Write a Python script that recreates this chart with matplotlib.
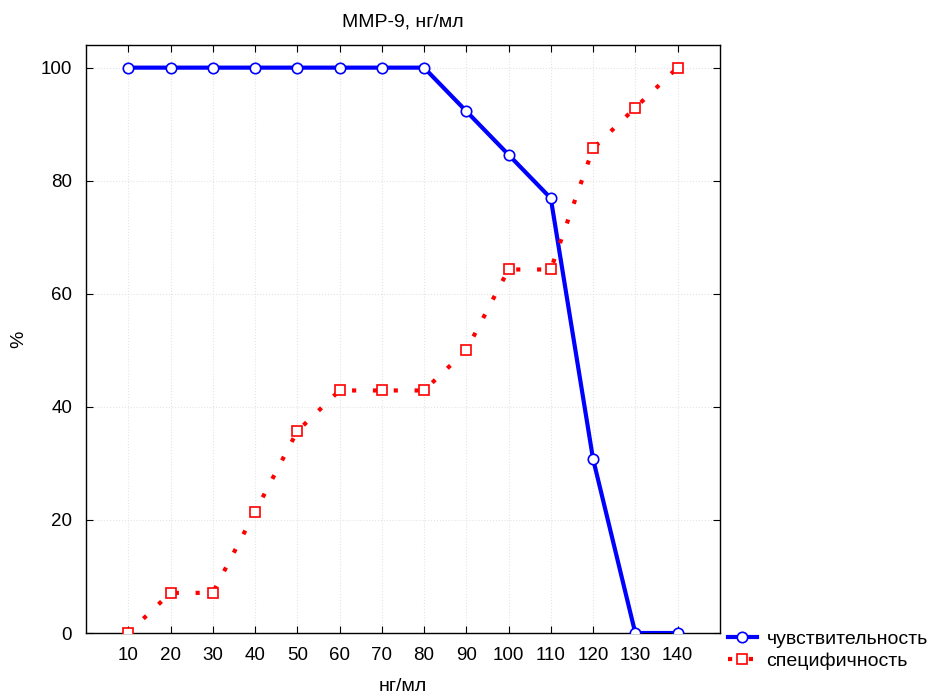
import numpy as np
import matplotlib.pyplot as plt

plt.rcParams['font.family'] = ['Liberation Sans', 'DejaVu Sans']

# Data
thresholds = [10, 20, 30, 40, 50, 60, 70, 80, 90, 100, 110, 120, 130, 140]
sensitivity = [100, 100, 100, 100, 100, 100, 100, 100, 92.3, 84.6, 76.9, 30.8, 0, 0]
specificity = [0, 7.1, 7.1, 21.4, 35.7, 42.9, 42.9, 42.9, 50, 64.3, 64.3, 85.7, 92.9, 100]

fig = plt.figure(figsize=(9.36, 6.97), dpi=100)
ax = fig.add_axes([0.0919, 0.0918, 0.6771, 0.8436])

ax.plot(thresholds, sensitivity, color='#0000ff', linewidth=3,
        marker='o', markersize=7.5, markerfacecolor='white',
        markeredgecolor='#0000ff', markeredgewidth=1.2,
        label='чувствительность', zorder=3)
ax.plot(thresholds, specificity, color='#ff0000', linewidth=3,
        linestyle=(0, (1, 4)),
        marker='s', markersize=7.5, markerfacecolor='white',
        markeredgecolor='#ff0000', markeredgewidth=1.2,
        label='специфичность', zorder=3)

ax.set_xlim(0, 150)
ax.set_ylim(0, 104)
ax.set_xticks(thresholds)
ax.set_yticks([0, 20, 40, 60, 80, 100])
ax.tick_params(direction='in', top=True, right=True, labelsize=13.5, length=5, pad=10)
ax.grid(True, color='#e4e4e4', linestyle=':', linewidth=0.8)
for s in ax.spines.values():
    s.set_linewidth(1)

ax.set_title('MMP-9, нг/мл', fontsize=14, pad=13)
ax.set_xlabel('нг/мл', fontsize=14, labelpad=10)
ax.set_ylabel('%', fontsize=14, labelpad=10)

fig.legend(loc='upper left', bbox_to_anchor=(0.769, 0.107), frameon=False,
           fontsize=14, handlelength=1.5, handletextpad=0.5, labelspacing=0.25,
           borderaxespad=0)

plt.savefig('out.png', dpi=100, facecolor='white')
